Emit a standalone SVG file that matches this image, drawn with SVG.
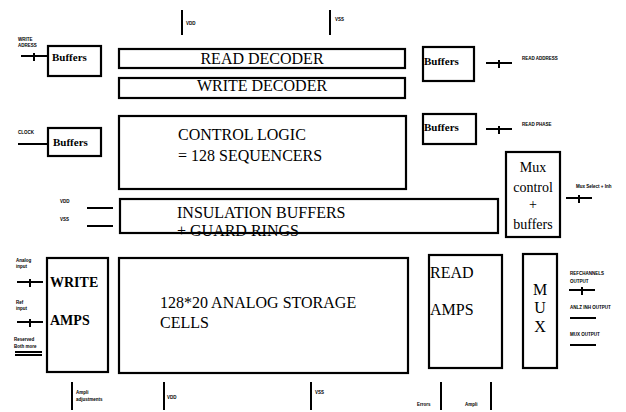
<svg xmlns="http://www.w3.org/2000/svg" width="626" height="412" viewBox="0 0 626 412">
<style>
.box{fill:#fff;stroke:#000;stroke-width:2.2}
.ln{stroke:#000;stroke-width:2;fill:none}
.big{font-family:"Liberation Serif",serif;font-size:16px;fill:#000}
.mid{font-family:"Liberation Serif",serif;font-size:14px;fill:#000}
.bld{font-family:"Liberation Serif",serif;font-size:14px;font-weight:bold;fill:#000}
.buf{font-family:"Liberation Serif",serif;font-size:11px;font-weight:bold;fill:#000}
.tiny{font-family:"Liberation Sans",sans-serif;font-size:4.5px;font-weight:bold;fill:#000}
</style>
<rect width="626" height="412" fill="#fff"/>
<defs>
<path id="tick" d="M-13 0H13M0 -3V5" class="ln"/>
</defs>
<g id="read-decoder"><rect class="box" x="119" y="49" width="286" height="19"/><text class="big" x="262" y="64" text-anchor="middle">READ DECODER</text></g>
<g id="write-decoder"><rect class="box" x="119" y="78" width="286" height="20"/><text class="big" x="262" y="91" text-anchor="middle">WRITE DECODER</text></g>
<g id="buffers-write-address"><rect class="box" x="48" y="46" width="53" height="30"/><text class="buf" x="52" y="61">Buffers</text></g>
<g id="buffers-clock"><rect class="box" x="48" y="128" width="53" height="28"/><text class="buf" x="53" y="146">Buffers</text></g>
<g id="buffers-read-address"><rect class="box" x="423" y="47" width="51" height="34"/><text class="buf" x="424" y="65">Buffers</text></g>
<g id="buffers-read-phase"><rect class="box" x="423" y="114" width="53" height="30"/><text class="buf" x="424" y="131">Buffers</text></g>
<g id="control-logic"><rect class="box" x="119" y="116" width="287" height="73"/><text class="big" x="178" y="140">CONTROL LOGIC</text><text class="big" x="178" y="161">= 128  SEQUENCERS</text></g>
<g id="mux-control"><rect class="box" x="506" y="152" width="54" height="85"/><text class="mid" x="533" y="172" text-anchor="middle">Mux</text><text class="mid" x="533" y="192" text-anchor="middle">control</text><text class="mid" x="533" y="209" text-anchor="middle">+</text><text class="mid" x="533" y="229" text-anchor="middle">buffers</text></g>
<g id="insulation-buffers"><text class="big" x="177" y="218">INSULATION BUFFERS</text><text class="big" x="177" y="236">+ GUARD RINGS</text><rect x="120" y="199" width="378" height="34" fill="none" stroke="#000" stroke-width="2.2"/></g>
<g id="write-amps"><rect class="box" x="47" y="258" width="61" height="114"/><text class="bld" x="50" y="287">WRITE</text><text class="bld" x="50" y="325">AMPS</text></g>
<g id="storage-cells"><rect class="box" x="119" y="258" width="289" height="115"/><text class="big" x="160" y="308">128*20 ANALOG STORAGE</text><text class="big" x="160" y="328">CELLS</text></g>
<g id="read-amps"><rect class="box" x="429" y="255" width="73" height="113"/><text class="big" x="430" y="278">READ</text><text class="big" x="430" y="315">AMPS</text></g>
<g id="mux"><rect class="box" x="523" y="254" width="34" height="114"/><text class="big" x="540" y="295" text-anchor="middle">M</text><text class="big" x="540" y="313" text-anchor="middle">U</text><text class="big" x="540" y="332" text-anchor="middle">X</text></g>
<g id="connectors">
<path class="ln" d="M182 10V35M330 10V35"/>
<use href="#tick" x="34" y="56"/>
<path class="ln" d="M18 144H48"/>
<use href="#tick" x="499" y="63"/>
<use href="#tick" x="499" y="129"/>
<use href="#tick" x="579" y="198"/>
<path class="ln" d="M87 208H113M87 226H113"/>
<use href="#tick" x="30" y="282"/>
<use href="#tick" x="30" y="322"/>
<path class="ln" d="M15 352H42M15 355H42"/>
<use href="#tick" x="582" y="290"/>
<path class="ln" d="M570 318H596M570 345H596"/>
<path class="ln" d="M72 382V410M164 382V410M311 382V410M441 382V410M491 382V410"/>
</g>
<g id="labels">
<text class="tiny" x="186" y="25">VDD</text>
<text class="tiny" x="335" y="21">VSS</text>
<text class="tiny" x="18" y="41">WRITE</text><text class="tiny" x="18" y="47">ADRESS</text>
<text class="tiny" x="18" y="134">CLOCK</text>
<text class="tiny" x="522" y="60">READ ADDRESS</text>
<text class="tiny" x="522" y="126">READ PHASE</text>
<text class="tiny" x="576" y="188">Mux Select + Inh</text>
<text class="tiny" x="60" y="203">VDD</text>
<text class="tiny" x="60" y="221">VSS</text>
<text class="tiny" x="16" y="262">Analog</text><text class="tiny" x="16" y="268">input</text>
<text class="tiny" x="16" y="304">Ref</text><text class="tiny" x="16" y="310">input</text>
<text class="tiny" x="14" y="341">Reserved</text><text class="tiny" x="14" y="348">Both more</text>
<text class="tiny" x="570" y="275">REFCHANNELS</text><text class="tiny" x="570" y="283">OUTPUT</text>
<text class="tiny" x="570" y="309">ANLZ INH OUTPUT</text>
<text class="tiny" x="570" y="336">MUX OUTPUT</text>
<text class="tiny" x="76" y="394">Ampli</text><text class="tiny" x="76" y="401">adjustments</text>
<text class="tiny" x="167" y="399">VDD</text>
<text class="tiny" x="315" y="394">VSS</text>
<text class="tiny" x="417" y="406">Errors</text>
<text class="tiny" x="465" y="406">Ampli</text>
</g>
</svg>
